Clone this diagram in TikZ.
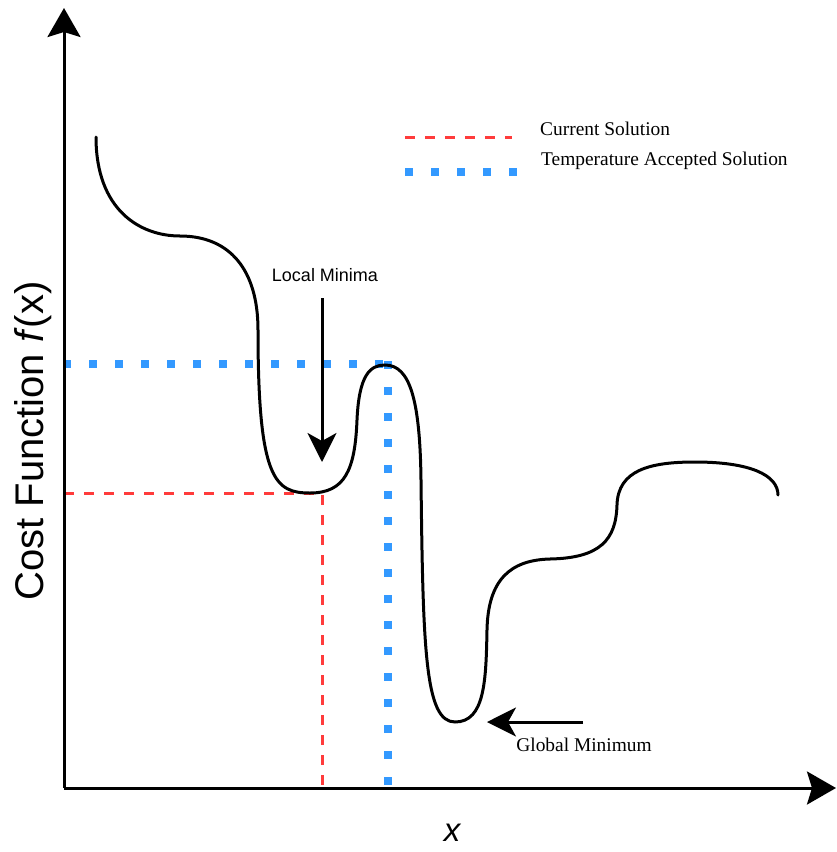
\documentclass[tikz,border=0pt]{standalone}
\usepackage{fontspec}
\setmainfont{Liberation Serif}
\setsansfont{Liberation Sans}
\usetikzlibrary{arrows.meta}

\definecolor{curred}{HTML}{FF3B3B}
\definecolor{tempblue}{HTML}{3399FF}

\tikzset{
  axisline/.style={line width=3pt, -{Stealth[length=29pt, width=33pt, inset=5pt]}},
  costcurve/.style={line width=3pt, line cap=round},
  pointer/.style={line width=3pt, -{Stealth[length=29pt, width=29pt, inset=8pt]}},
  currentline/.style={curred, line width=3pt, dash pattern=on 10pt off 10pt},
  templine/.style={tempblue, line width=8pt, dash pattern=on 8pt off 18pt},
  seriflabel/.style={inner sep=0pt, font=\fontsize{19.4}{22}\selectfont},
  sanslabel/.style={inner sep=0pt, font=\sffamily\fontsize{18}{21}\selectfont},
}

\begin{document}
\begin{tikzpicture}[x=1pt, y=-1pt]
  \useasboundingbox (0,0) rectangle (837,852);

  % axes
  \coordinate (origin) at (64,788);
  \coordinate (ytop) at (64,8);
  \coordinate (xend) at (836,788);

  % reference levels
  \coordinate (curL) at (64,493);
  \coordinate (curP) at (322,493);
  \coordinate (curB) at (322,788);
  \coordinate (tmpL) at (63,364);
  \coordinate (tmpP) at (388,364);
  \coordinate (tmpB) at (388,788);

  % current solution (red) and temperature-accepted solution (blue)
  \draw[currentline] (curL) -- (curP) -- (curB);
  \draw[templine] (tmpL) -- (tmpP);
  \draw[templine] ([yshift=3pt]tmpP) -- (tmpB);

  % the cost landscape
  \draw[costcurve] (96,137)
    .. controls (96,210) and (140,236) .. (180,236)
    .. controls (230,236) and (258,270) .. (258,330)
    .. controls (258,480) and (275,493) .. (310,493)
    .. controls (345,493) and (355,470) .. (357,420)
    .. controls (359,375) and (370,365) .. (385,365)
    .. controls (410,365) and (420,400) .. (421,480)
    .. controls (423,650) and (425,722) .. (455,722)
    .. controls (485,722) and (486,680) .. (487,630)
    .. controls (488,580) and (510,560) .. (550,559)
    .. controls (600,558) and (616,540) .. (617,505)
    .. controls (618,470) and (650,462) .. (695,462)
    .. controls (750,462) and (778,475) .. (778,495);

  \draw[axisline] (origin) -- (ytop);
  \draw[axisline] (origin) -- (xend);

  % axis labels
  \node[inner sep=0pt, rotate=90, font=\sffamily\fontsize{40}{44}\selectfont]
    (ylabel) at (33,441) {Cost Function \textit{f}(x)};
  \node[inner sep=0pt, font=\sffamily\itshape\fontsize{33}{36}\selectfont]
    (xlabel) at (452,833) {x};

  % local minimum marker
  \node[sanslabel] (localtxt) at (325,275) {Local Minima};
  \coordinate (localtail) at (322,298);
  \coordinate (localtip) at (322,462);
  \draw[pointer] (localtail) -- (localtip);

  % global minimum marker
  \coordinate (globaltail) at (583,722);
  \coordinate (globaltip) at (487,722);
  \draw[pointer] (globaltail) -- (globaltip);
  \node[seriflabel] (globaltxt) at (584,745) {Global Minimum};

  % legend
  \coordinate (legRa) at (405,137);
  \coordinate (legRb) at (512,137);
  \coordinate (legBa) at (405,172);
  \coordinate (legBb) at (520,172);
  \draw[currentline] (legRa) -- (legRb);
  \draw[templine] (legBa) -- (legBb);
  \node[seriflabel, anchor=west] (legRtxt) at (540,129) {Current Solution};
  \node[seriflabel, anchor=west] (legBtxt) at (541,161) {Temperature Accepted Solution};
\end{tikzpicture}
\end{document}
